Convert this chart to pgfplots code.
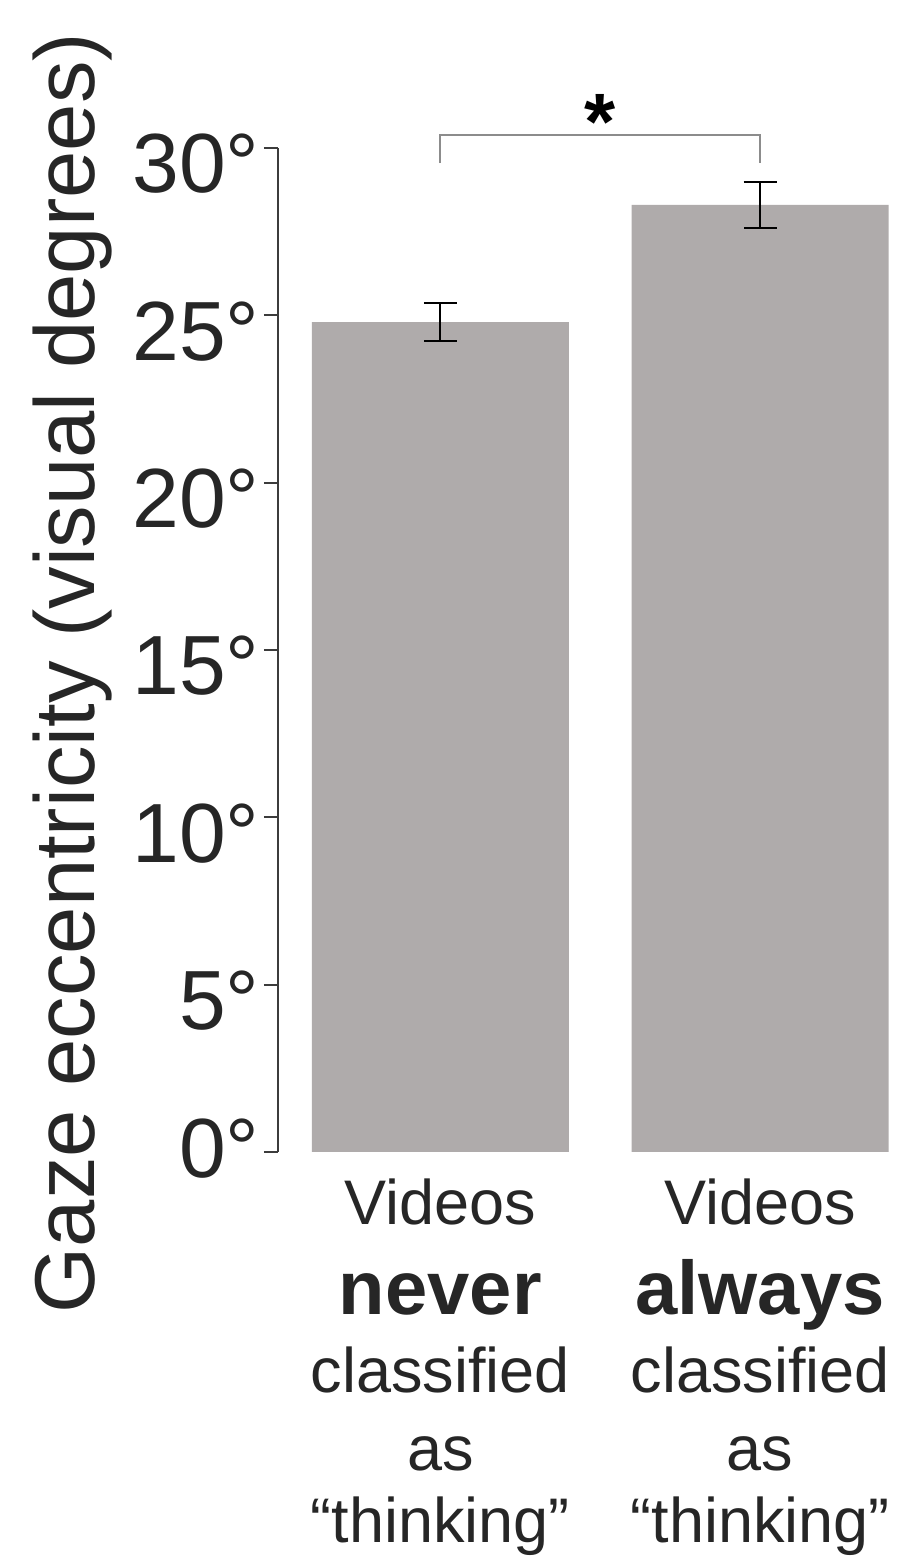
\documentclass[border=0pt]{standalone}
\usepackage{fontspec}
\setmainfont{Liberation Sans}
\usepackage{pgfplots}
\pgfplotsset{compat=1.18}
\definecolor{bargray}{RGB}{175,171,171}
\definecolor{txt}{RGB}{38,38,38}
\definecolor{axgray}{RGB}{60,60,60}
\definecolor{brgray}{RGB}{140,140,140}
\begin{document}
\begin{tikzpicture}
\begin{axis}[
 scale only axis, width=305pt, height=502pt,
 xmin=-0.508, xmax=1.4, ymin=0, ymax=30,
 clip=false,
 axis lines*=left,
 x axis line style={draw=none},
 y axis line style={axgray, line width=1pt},
 xtick={0,1},
 xticklabels={{Videos\\[6pt]{\fontsize{38}{44}\selectfont\bfseries never}\\classified\\as\\[-3pt]“thinking”},{Videos\\[6pt]{\fontsize{38}{44}\selectfont\bfseries always}\\classified\\as\\[-3pt]“thinking”}},
 ytick={5,10,15,20,25,30},
 yticklabels={5°,10°,15°,20°,25°,30°},
 extra y ticks={0},
 extra y tick labels={0°},
 extra y tick style={yticklabel style={yshift=9.5pt}},
 tick align=outside,
 major tick length=7pt,
 ytick style={axgray, line width=1pt},
 xtick style={draw=none},
 yticklabel style={font=\fontsize{42}{50}\selectfont, text=txt, anchor=east, inner sep=0pt, xshift=-2pt, yshift=-8pt},
 xticklabel style={font=\fontsize{31.5}{39}\selectfont, text=txt, anchor=north, align=center, inner sep=0pt, yshift=-6pt},
 ylabel={Gaze eccentricity (visual degrees)},
 ylabel style={at={(axis description cs:-0.336,0.477)}, anchor=center, font=\fontsize{42.5}{50}\selectfont, text=txt, inner sep=0pt},
]
\addplot[ybar, bar width=128.5pt, fill=bargray, draw=none,
  error bars/.cd, y dir=both, y explicit,
  error bar style={black, line width=1pt},
  error mark options={rotate=90, black, mark size=8.25pt, line width=1pt}]
  coordinates {(0,24.8) +- (0,0.555) (1,28.3) +- (0,0.685)};
\draw[brgray, line width=1pt] (axis cs:0,29.55) -- (axis cs:0,30.39) -- (axis cs:1,30.39) -- (axis cs:1,29.55);
\node[anchor=base, font=\fontsize{40}{44}\selectfont\bfseries, inner sep=0pt] at (axis cs:0.5,29.95) {*};
\coordinate (bl) at (rel axis cs:-0.4557,-0.4044);
\coordinate (tr) at (rel axis cs:1.0246,1.1474);
\end{axis}
\pgfresetboundingbox
\path[use as bounding box] (bl) rectangle (tr);
\end{tikzpicture}
\end{document}
